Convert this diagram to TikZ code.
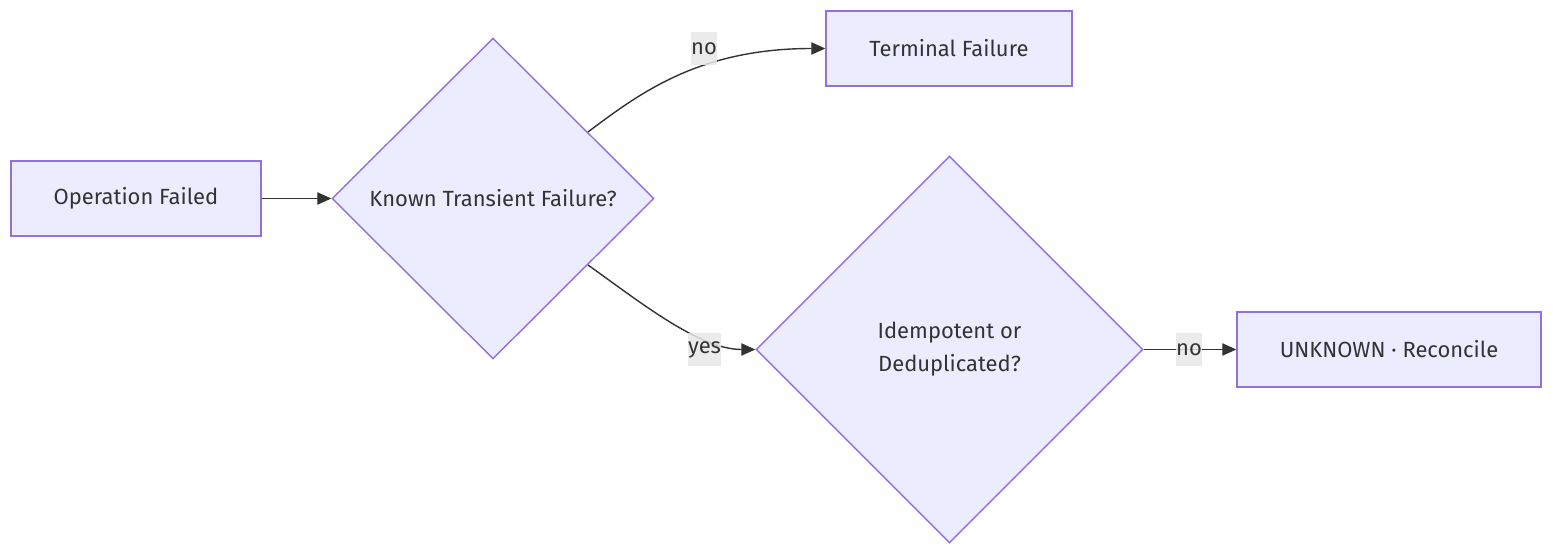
\documentclass[tikz,border=0pt]{standalone}
\usepackage{fontspec}
\setmainfont{Fira Sans}
\usetikzlibrary{shapes.geometric,arrows.meta}

\definecolor{nodefill}{HTML}{ECECFF}
\definecolor{nodeline}{HTML}{9370DB}
\definecolor{edgeline}{HTML}{333333}
\definecolor{labelbg}{HTML}{E8E8E8}

\begin{document}
\begin{tikzpicture}[x=0.02cm,y=-0.02cm,
  font=\fontsize{12.5}{18.8}\selectfont,
  box/.style={draw=nodeline,fill=nodefill,line width=0.8pt,text=edgeline,minimum height=1.5cm},
  decision/.style={diamond,aspect=1,draw=nodeline,fill=nodefill,line width=0.8pt,text=edgeline,inner sep=0pt,align=center},
  edge/.style={draw=edgeline,line width=0.8pt,-{Triangle[length=8pt,width=7pt]}},
  lbl/.style={fill=labelbg,fill opacity=0.85,text opacity=1,text=edgeline,inner xsep=0pt,minimum height=0.66cm}]

\useasboundingbox (0,0) rectangle (1568,560);

% Nodes
\node[box,minimum width=5cm] (failed) at (136,198.5) {Operation Failed};
\node[decision,minimum width=6.44cm,minimum height=6.42cm] (transient) at (493,198.5) {Known Transient Failure?};
\node[box,minimum width=4.92cm] (terminal) at (949,48.5) {Terminal Failure};
\node[decision,minimum width=7.74cm,minimum height=7.74cm] (idem) at (949.5,349.5) {Idempotent or\\Deduplicated?};
\node[box,minimum width=6.08cm] (unknown) at (1389,349.5) {UNKNOWN · Reconcile};

% Edges
\draw[edge] (failed.east) -- (transient.west);
\draw[edge] (transient.35) .. controls +(52,-39) and +(-126,0) .. (terminal.west);
\draw[edge] (transient.-35) .. controls +(52,37) and +(-56,0) .. (idem.west);
\draw[edge] (idem.east) -- (unknown.west);

% Edge labels
\node[lbl] (nolabel) at (704,48.5) {no};
\node[lbl] (yeslabel) at (704.5,349.5) {yes};
\node[lbl] (nolabel2) at (1189,349.5) {no};

\end{tikzpicture}
\end{document}
